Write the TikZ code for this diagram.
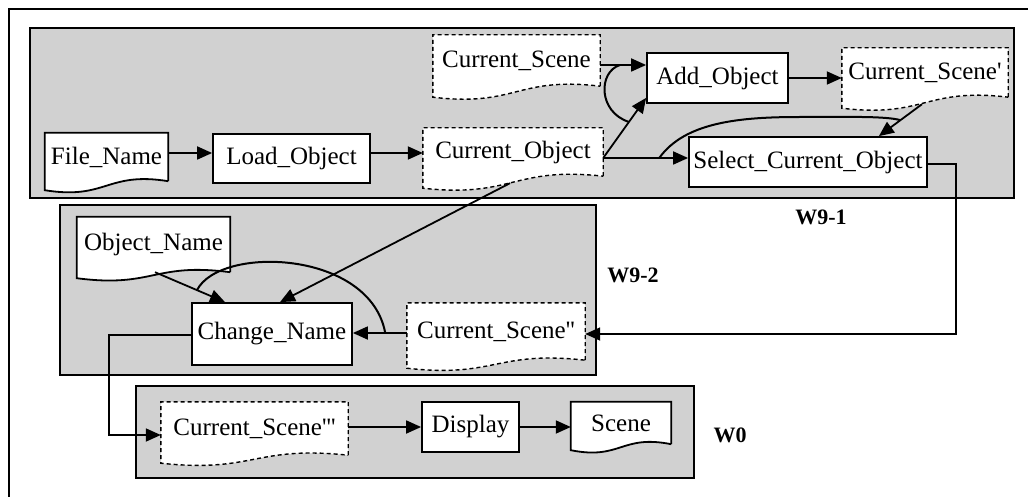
\documentclass[tikz,border=0pt]{standalone}
\usepackage{fontspec}
\setmainfont{Liberation Serif}[Ligatures=TeXOff]
\usetikzlibrary{arrows.meta,calc}
\pgfdeclarelayer{panels}
\pgfdeclarelayer{shapes}
\pgfsetlayers{panels,shapes,main}
\newcommand\docoutline[3]{%
  \begin{pgfonlayer}{shapes}
  \path (#1.south west) ++(0,#2) coordinate (#1-bl);
  \draw[#3] (#1.south east) -- (#1.north east) -- (#1.north west) -- (#1-bl)
    .. controls ($(#1.south)+(0,#2+10)$) and ($(#1.south)+(0,-10)$) .. (#1.south east);
  \end{pgfonlayer}}
\newcommand\qq{\char"27}
\begin{document}
\begin{tikzpicture}[x=1pt,y=-1pt,
  every node/.style={font=\fontsize{25}{29}\selectfont, inner sep=0pt},
  proc/.style={draw, line width=1.8pt, fill=white},
  docnode/.style 2 args={minimum width=#1pt, minimum height=#2pt},
  soliddoc/.style={draw, line width=1.8pt, fill=white},
  dashdoc/.style={draw, line width=1.4pt, dash pattern=on 4pt off 3pt, fill=white},
  panel/.style={draw, line width=1.8pt, fill=black!18},
  frame/.style={line width=1.5pt},
  wlabel/.style={font=\fontsize{22}{26}\selectfont\bfseries},
  arr/.style={line width=1.8pt, -{Triangle[length=15pt,width=13pt]}},
  arc/.style={line width=2pt}]
\useasboundingbox (0,0) rectangle (1028,497);
\clip (0,0) rectangle (1028,497);
% outer frame (cut by the picture edge)
\draw[frame] (9,520) -- (9,9) -- (1040,9);
% panels
\begin{pgfonlayer}{panels}
\draw[panel] (30,28) rectangle (1014,198);
\draw[panel] (60,205) rectangle (596,375);
\draw[panel] (136,386) rectangle (694,478);
\end{pgfonlayer}
\node[wlabel] (w91) at (821,217) {W9-1};
\node[wlabel] (w92) at (633,275) {W9-2};
\node[wlabel] (w0) at (730,435) {W0};
% processes
\node[proc, minimum width=157pt, minimum height=49pt] (load) at (291.5,158.5) {Load\_Object};
\node[proc, minimum width=141pt, minimum height=50pt] (add) at (717.5,78) {Add\_Object};
\node[proc, minimum width=238pt, minimum height=50pt] (select) at (808,162) {Select\_Current\_Object};
\node[proc, minimum width=160pt, minimum height=62pt] (change) at (272,334) {Change\_Name};
\node[proc, minimum width=97pt, minimum height=50pt] (display) at (470.5,427) {Display};
% documents
\node[docnode={123}{48}] (file) at (106.5,157) {File\_Name};
\docoutline{file}{9}{soliddoc}
\node[docnode={180}{48}] (curobj) at (513,152) {Current\_Object};
\docoutline{curobj}{12}{dashdoc}
\node[docnode={167}{51}] (cursc) at (516.5,60.5) {Current\_Scene};
\docoutline{cursc}{11}{dashdoc}
\node[docnode={166}{49}] (cursca) at (925,72.5) {Current\_Scene\qq};
\docoutline{cursca}{11}{dashdoc}
\node[docnode={153}{55}] (objname) at (153.5,244.5) {Object\_Name};
\docoutline{objname}{6}{soliddoc}
\node[docnode={178}{57}] (curscb) at (496,331.5) {Current\_Scene\qq\qq};
\docoutline{curscb}{8}{dashdoc}
\node[docnode={187}{53}] (curscc) at (254.5,428.5) {Current\_Scene\qq\qq\qq};
\docoutline{curscc}{8}{dashdoc}
\node[docnode={100}{42}] (scene) at (621,423) {Scene};
\docoutline{scene}{6}{soliddoc}
% connectors W9-1
\draw[arr] ($(file.east)+(0,-4)$) coordinate (c1) -- (c1 -| load.west);
\draw[arr] ($(load.east)+(0,-5.5)$) coordinate (c2) -- (c2 -| curobj.west);
\draw[arr] ($(cursc.east)+(0,4.5)$) coordinate (c3) -- coordinate[pos=0.43] (j1) (c3 -| add.west);
\draw[arr] ($(curobj.east)+(0,6)$) coordinate (c4) -- coordinate[pos=0.6] (j2) ($(add.south west)+(0,-6)$);
\draw[arr] (c4) -- coordinate[pos=0.66] (j3) (c4 -| select.west);
\draw[arr] (add.east) -- (add.east -| cursca.west);
\draw[arr] ($(cursca.south)+(-3,7)$) -- coordinate[pos=0.5] (j4) ($(select.north east)+(-49,0)$);
\draw[arc] (j1) .. controls (598,72) and (598,112) .. (j2);
\draw[arc] (j3) .. controls (685,122) and (740,117) .. (800,117)
  .. controls (850,117) and (885,116) .. (j4);
% W9-1 to W9-2
\draw[arr] ($(select.east)+(0,2)$) -- ++(28,0) |- ($(curscb.east)+(0,2.5)$);
\draw[arr] ($(curobj.south)+(-3,7)$) -- ($(change.north)+(8,0)$);
% W9-2
\draw[arr] ($(objname.south)+(1.5,0)$) -- coordinate[pos=0.6] (j6) ($(change.north)+(-47,0)$);
\draw[arr] ($(curscb.west)+(0,1.5)$) coordinate (c5) -- coordinate[pos=0.4] (j5) (c5 -| change.east);
\draw[arc] (j5) .. controls (370,250) and (220,245) .. (j6);
% W9-2 to W0
\draw[arr] ($(change.west)+(0,1)$) -- ++(-82,0) |- ($(curscc.west)+(0,6.5)$);
% W0
\draw[arr] ($(curscc.east)+(0,-1.5)$) coordinate (c6) -- (c6 -| display.west);
\draw[arr] (display.east) -- (display.east -| scene.west);
\end{tikzpicture}
\end{document}
